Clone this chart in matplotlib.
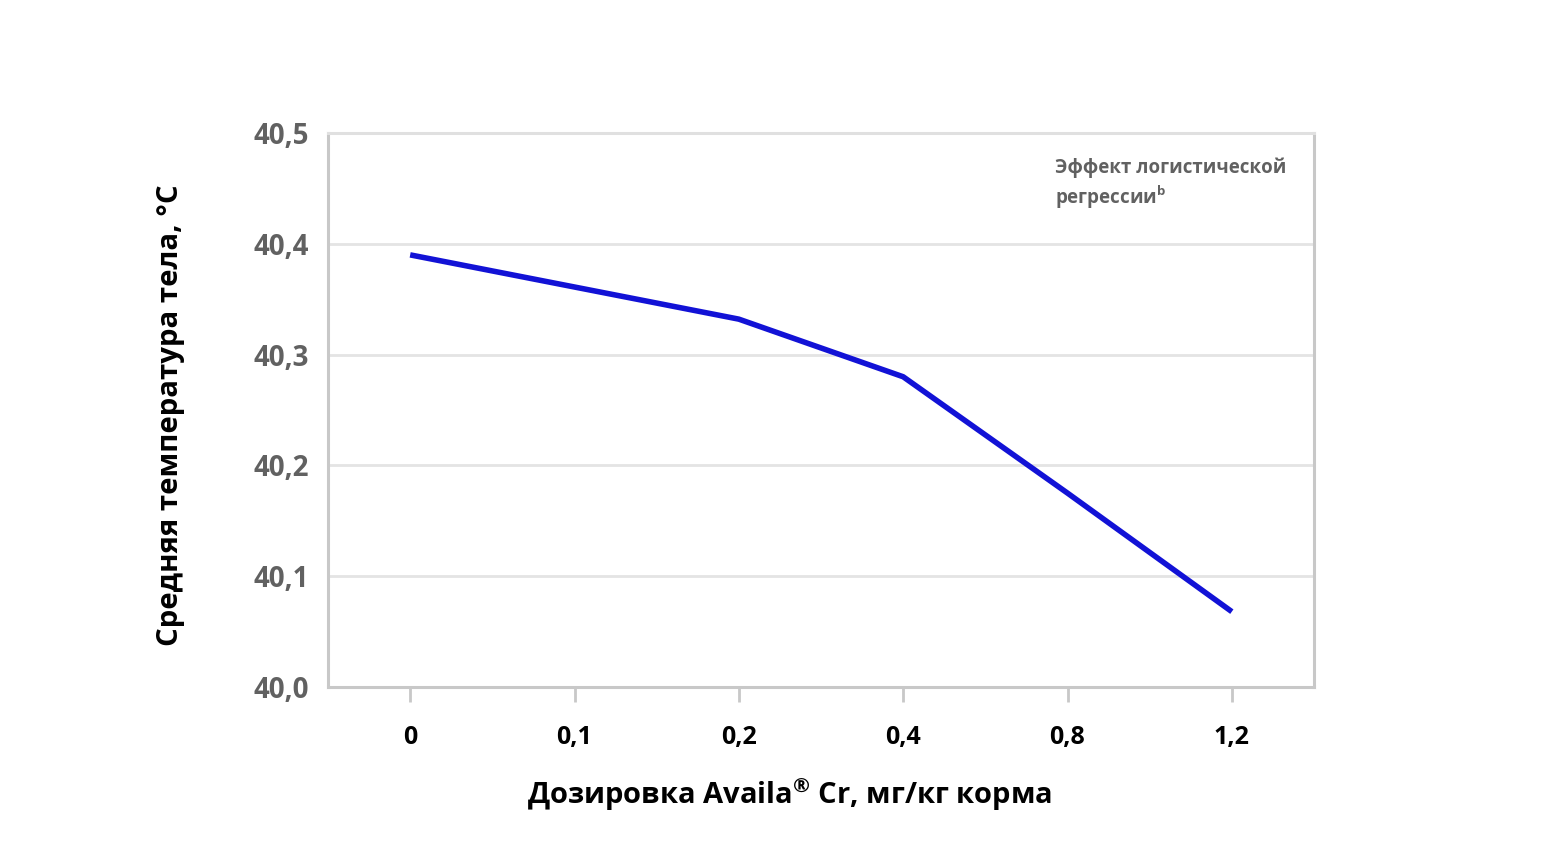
import matplotlib
matplotlib.use("Agg")
import matplotlib.pyplot as plt
import numpy as np

# %% Data
doses = ["0", "0,1", "0,2", "0,4", "0,8", "1,2"]
temps = [40.390, 40.361, 40.332, 40.280, 40.175, 40.068]
yticks = [40.0, 40.1, 40.2, 40.3, 40.4, 40.5]
ytick_labels = ["40,0", "40,1", "40,2", "40,3", "40,4", "40,5"]

plt.rcParams['font.family'] = ['Open Sans', 'DejaVu Sans']
plt.rcParams['mathtext.fontset'] = 'custom'
plt.rcParams['mathtext.rm'] = 'Open Sans:bold'
plt.rcParams['mathtext.bf'] = 'Open Sans:bold'

fig = plt.figure(figsize=(15.51, 8.55), dpi=100)
ax = fig.add_axes([328/1551, 1 - 687/855, (1314-328)/1551, (687-133)/855])

x = np.arange(len(doses))
ax.plot(x, temps, color='#1212d6', lw=4.0, solid_joinstyle='round',
        solid_capstyle='butt', zorder=3)

ax.set_xlim(-0.5, len(doses) - 0.5)
ax.set_ylim(40.0, 40.5)

ax.set_yticks(yticks)
ax.set_yticklabels(ytick_labels)
ax.set_xticks(x)
ax.set_xticklabels(doses)

ax.grid(axis='y', color='#e4e4e4', lw=2)
ax.set_axisbelow(True)
for s in ax.spines.values():
    s.set_color('#c8c8c8')
    s.set_linewidth(2.2)
ax.spines['top'].set_color('#e0e0e0')

ax.tick_params(axis='y', length=0, pad=14, labelsize=20, labelcolor='#616161')
ax.tick_params(axis='x', length=11, width=2, color='#c8c8c8', pad=16,
               labelsize=18, labelcolor='black')
for lab in ax.get_xticklabels() + ax.get_yticklabels():
    lab.set_fontweight('bold')

ax.set_ylabel('Средняя температура тела, °С', fontsize=21.2, fontweight='bold')
ax.yaxis.set_label_coords(-0.145, 0.49)
ax.set_xlabel(r'Дозировка Availa$^{\mathrm{®}}$ Cr, мг/кг корма', fontsize=21,
              fontweight='bold')
ax.xaxis.set_label_coords(0.468, -0.16)

ax.text(0.737, 0.955, 'Эффект логистической\nрегрессии$^{\\mathrm{b}}$',
        transform=ax.transAxes, fontsize=13.5, fontweight='bold',
        color='#616161', va='top', ha='left', linespacing=1.25)

fig.savefig('out.png', dpi=100)
